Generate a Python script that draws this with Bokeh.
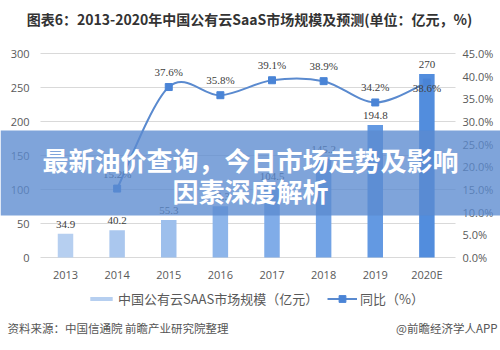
from bokeh.plotting import figure
from bokeh.models import (Range1d, LinearAxis, ColumnDataSource, LabelSet, Label,
                          BoxAnnotation, Legend, LegendItem, PrintfTickFormatter,
                          FixedTicker)
from bokeh.embed import file_html
from bokeh.resources import INLINE

# ---------------- data ----------------
years = ["2013", "2014", "2015", "2016", "2017", "2018", "2019", "2020E"]
market_size = [34.9, 40.2, 55.3, 75.3, 104.5, 145.2, 194.8, 270.0]
growth_pct = [None, 15.2, 37.6, 35.8, 39.1, 38.9, 34.2, 38.6]
left_ticks = [0, 50, 100, 150, 200, 250, 300]
right_ticks = [0, 5, 10, 15, 20, 25, 30, 35, 40, 45]

title_text = "图表6：2013-2020年中国公有云SaaS市场规模及预测(单位：亿元，%)"
bar_name = "中国公有云SAAS市场规模（亿元）"
line_name = "同比（%）"
source_text = "资料来源：中国信通院 前瞻产业研究院整理"
brand_text = "@前瞻经济学人APP"
banner_line1 = "最新油价查询，今日市场走势及影响"
banner_line2 = "因素深度解析"

# ---------------- style / layout ----------------
bar_colors = ["#b6cff0", "#aac7ee", "#9dbfec", "#8db5ea", "#80ace8",
              "#72a3e5", "#6399e2", "#528ddd"]
line_color = "#5a8acf"
marker_color = "#4a84d6"
num_font = "Open Sans"
cjk_font = "Noto Sans CJK SC"

W, H = 500, 350
X0PX, STEP = 65.0, 51.625      # pixel centre of first category, category spacing
Y0PX, Y300PX = 257.0, 53.0     # pixel rows of value 0 and value 300

def xd(px):
    return (px - X0PX) / STEP
def yd(py):
    return (Y0PX - py) / (Y0PX - Y300PX) * 300
def yp(py):
    return (Y0PX - py) / (Y0PX - Y300PX) * 45

xs = list(range(len(years)))

p = figure(width=W, height=H, x_range=Range1d(xd(0), xd(W)),
           y_range=Range1d(yd(H), yd(0)), output_backend="svg",
           toolbar_location=None, title=None, min_border=0,
           x_axis_type=None, y_axis_type=None)
p.outline_line_color = None
p.background_fill_color = "white"
p.border_fill_color = "white"
p.extra_y_ranges = {"pct": Range1d(yp(H), yp(0))}
p.xgrid.visible = False
p.ygrid.visible = False

# axes (drawn at fixed positions so the frame covers the whole canvas)
ax_left = LinearAxis(ticker=FixedTicker(ticks=left_ticks), fixed_location=xd(39))
ax_right = LinearAxis(y_range_name="pct", ticker=FixedTicker(ticks=right_ticks),
                      formatter=PrintfTickFormatter(format="%.1f%%"),
                      fixed_location=xd(452))
ax_bottom = LinearAxis(ticker=FixedTicker(ticks=xs),
                       major_label_overrides={i: y for i, y in zip(xs, years)},
                       fixed_location=0)
p.add_layout(ax_left, "left")
p.add_layout(ax_right, "right")
p.add_layout(ax_bottom, "below")
for ax in [ax_left, ax_right, ax_bottom]:
    ax.axis_line_color = None
    ax.major_tick_line_color = None
    ax.minor_tick_line_color = None
    ax.major_tick_out = 0
    ax.major_tick_in = 0
    ax.major_label_text_color = "#595959"
    ax.major_label_text_font = num_font
    ax.major_label_text_font_size = "11px"
ax_left.major_label_standoff = 10
ax_right.major_label_standoff = 10
ax_bottom.major_label_standoff = 9

# horizontal gridlines over the plotting area
p.segment(x0=xd(40), x1=xd(455), y0=left_ticks, y1=left_ticks,
          line_color="#d9d9d9", line_width=1)

# bars
bar_src = ColumnDataSource(dict(x=xs, size=market_size, color=bar_colors,
                                txt=[("%g" % v) for v in market_size]))
bars = p.vbar(x="x", top="size", width=0.3, fill_color="color", line_color=None,
              source=bar_src)

# growth line (smoothed: Catmull-Rom -> Bezier through the data points)
gx = [xs[i] for i, v in enumerate(growth_pct) if v is not None]
gy = [v for v in growth_pct if v is not None]
segs = dict(x0=[], y0=[], x1=[], y1=[], cx0=[], cy0=[], cx1=[], cy1=[])
m = len(gx)
for i in range(m - 1):
    p0 = (gx[max(i - 1, 0)], gy[max(i - 1, 0)])
    p1 = (gx[i], gy[i])
    p2 = (gx[i + 1], gy[i + 1])
    p3 = (gx[min(i + 2, m - 1)], gy[min(i + 2, m - 1)])
    segs["x0"].append(p1[0]); segs["y0"].append(p1[1])
    segs["x1"].append(p2[0]); segs["y1"].append(p2[1])
    segs["cx0"].append(p1[0] + (p2[0] - p0[0]) / 6)
    segs["cy0"].append(p1[1] + (p2[1] - p0[1]) / 6)
    segs["cx1"].append(p2[0] - (p3[0] - p1[0]) / 6)
    segs["cy1"].append(p2[1] - (p3[1] - p1[1]) / 6)
curve = p.bezier(x0="x0", y0="y0", x1="x1", y1="y1", cx0="cx0", cy0="cy0",
                 cx1="cx1", cy1="cy1", source=ColumnDataSource(segs),
                 y_range_name="pct", line_color=line_color, line_width=2)
pct_src = ColumnDataSource(dict(x=gx, pct=gy, txt=["%.1f%%" % v for v in gy],
                                yoff=[9] * (m - 1) + [-11]))
marks = p.scatter(x="x", y="pct", marker="square", size=7, fill_color=marker_color,
                  line_color=marker_color, y_range_name="pct", source=pct_src)

# data labels
p.add_layout(LabelSet(x="x", y="size", text="txt", source=bar_src, y_offset=6,
                      text_align="center", text_baseline="bottom",
                      text_font=num_font, text_font_size="11px", text_color="#404040"))
p.add_layout(LabelSet(x="x", y="pct", text="txt", source=pct_src, y_offset="yoff",
                      y_range_name="pct", text_align="center", text_baseline="bottom",
                      text_font=num_font, text_font_size="11px", text_color="#404040"))

# legends
common = dict(orientation="horizontal", label_standoff=3, padding=0, margin=0,
              border_line_color=None, background_fill_alpha=0,
              label_text_font=cjk_font, label_text_font_size="13px",
              label_text_color="#595959")
p.add_layout(Legend(items=[LegendItem(label=bar_name, renderers=[bars])],
                    location=(87, 42), glyph_width=28, glyph_height=5,
                    label_height=17, **common))
p.add_layout(Legend(items=[LegendItem(label=line_name, renderers=[curve, marks])],
                    location=(327, 42), glyph_width=30, glyph_height=17,
                    label_height=17, **common))

# title and footer
p.add_layout(Label(x=xd(249), y=yd(18), text=title_text, text_align="center",
                   text_baseline="middle", text_font=cjk_font, text_font_style="bold",
                   text_font_size="14px", text_color="#333333"))
p.add_layout(Label(x=xd(7), y=yd(327), text=source_text, text_align="left",
                   text_baseline="middle", text_font=cjk_font,
                   text_font_size="11.5px", text_color="#555555"))
p.add_layout(Label(x=xd(497), y=yd(327), text=brand_text, text_align="right",
                   text_baseline="middle", text_font=cjk_font,
                   text_font_size="11.5px", text_color="#555555"))

# banner overlay
p.add_layout(BoxAnnotation(top=yd(130), bottom=yd(215),
                           fill_color="#5b8bd0", fill_alpha=0.78, line_color=None,
                           level="overlay"))
for txt, py in [(banner_line1, 159), (banner_line2, 190)]:
    p.add_layout(Label(x=xd(250), y=yd(py), text=txt, text_align="center",
                       text_baseline="middle", text_font=cjk_font,
                       text_font_style="bold", text_font_size="26px",
                       text_color="white", level="overlay"))

open("out.html", "w").write(file_html(p, INLINE))
